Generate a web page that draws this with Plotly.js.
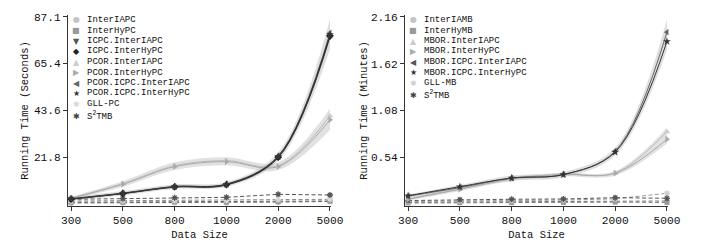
<!DOCTYPE html>
<html><head><meta charset="utf-8">
<script src="https://cdn.plot.ly/plotly-3.0.1.min.js"></script>
<style>body{margin:0;background:#fff}#chart{width:709px;height:244px}</style>
</head><body><div id="chart"></div>
<script>
// Shared categories
const dataSizes = ['300','500','800','1000','2000','5000'];

// ---- Left panel: Running Time (Seconds) ----
const leftTickVals = [21.8, 43.6, 65.4, 87.1];
const pcInterIAPC        = [0.5, 0.6, 0.7, 0.6, 0.9, 1.2];
const pcInterHyPC        = [0.8, 0.9, 1.0, 0.9, 1.1, 1.4];
const pcICPCInterIAPC    = [2.2, 4.8, 7.8, 8.8, 21.5, 77.6];
const pcICPCInterHyPC    = [2.3, 4.9, 8.0, 9.0, 21.8, 78.3];
const pcPCORInterIAPC    = [2.8, 9.5, 17.8, 20.2, 17.8, 41.0];
const pcPCORInterHyPC    = [2.6, 9.2, 17.4, 19.7, 17.4, 39.2];
const pcPCORICPCInterIAPC= [2.5, 5.1, 8.2, 9.3, 22.4, 79.6];
const pcPCORICPCInterHyPC= [2.4, 5.0, 8.1, 9.2, 22.1, 78.9];
const pcGLL              = [1.4, 1.5, 1.6, 1.7, 2.0, 2.2];
const pcS2TMB            = [2.2, 2.5, 2.9, 3.1, 4.5, 4.2];
const pcDarkBandLow      = [1.6, 4.0, 7.0, 8.0, 20.0, 72.0];
const pcDarkBandHigh     = [3.2, 6.0, 9.2, 10.2, 24.0, 86.0];
const pcGreyBandLow      = [2.0, 8.0, 15.8, 18.0, 15.8, 34.5];
const pcGreyBandHigh     = [3.4, 10.6, 19.4, 21.8, 19.4, 44.5];

// ---- Right panel: Running Time (Minutes) ----
const rightTickVals = [0.54, 1.08, 1.62, 2.16];
const mbInterIAMB        = [0.020, 0.022, 0.025, 0.025, 0.030, 0.035];
const mbInterHyMB        = [0.012, 0.015, 0.015, 0.018, 0.022, 0.018];
const mbMBORInterIAPC    = [0.060, 0.175, 0.295, 0.345, 0.360, 0.836];
const mbMBORInterHyPC    = [0.054, 0.170, 0.290, 0.340, 0.355, 0.748];
const mbMBORICPCInterIAPC= [0.090, 0.190, 0.300, 0.340, 0.610, 1.985];
const mbMBORICPCInterHyPC= [0.096, 0.200, 0.300, 0.340, 0.600, 1.877];
const mbGLL              = [0.030, 0.035, 0.040, 0.045, 0.060, 0.124];
const mbS2TMB            = [0.040, 0.050, 0.055, 0.058, 0.073, 0.066];
const mbDarkBandLow      = [0.070, 0.170, 0.270, 0.310, 0.560, 1.780];
const mbDarkBandHigh     = [0.110, 0.220, 0.330, 0.370, 0.650, 2.130];
const mbGreyBandLow      = [0.040, 0.150, 0.270, 0.320, 0.330, 0.700];
const mbGreyBandHigh     = [0.070, 0.190, 0.310, 0.360, 0.380, 0.880];

const leftLegend = ['InterIAPC','InterHyPC','ICPC.InterIAPC','ICPC.InterHyPC','PCOR.InterIAPC','PCOR.InterHyPC','PCOR.ICPC.InterIAPC','PCOR.ICPC.InterHyPC','GLL-PC','S<sup>2</sup>TMB'];
const rightLegend = ['InterIAMB','InterHyMB','MBOR.InterIAPC','MBOR.InterHyPC','MBOR.ICPC.InterIAPC','MBOR.ICPC.InterHyPC','GLL-MB','S<sup>2</sup>TMB'];

const FONT = '"Liberation Mono", "Courier New", monospace';
const traces = [];

function band(xa, ya, lo, hi, fill) {
  traces.push({x: dataSizes, y: lo, xaxis: xa, yaxis: ya, mode: 'lines', line: {width: 0, shape: 'spline'}, showlegend: false, hoverinfo: 'skip'});
  traces.push({x: dataSizes, y: hi, xaxis: xa, yaxis: ya, mode: 'lines', fill: 'tonexty', fillcolor: fill, line: {width: 0, shape: 'spline'}, showlegend: false, hoverinfo: 'skip'});
}
function series(xa, ya, y, color, symbol, opts) {
  opts = opts || {};
  const isOpen = symbol.indexOf('asterisk') >= 0;
  traces.push({
    x: dataSizes, y: y, xaxis: xa, yaxis: ya, mode: 'lines+markers', showlegend: false, cliponaxis: false,
    line: {color: opts.lineColor || color, width: opts.width || 1, dash: opts.dash || 'solid', shape: opts.shape || 'spline'},
    marker: {symbol: symbol, size: opts.size || 6, color: color, line: {color: color, width: isOpen ? 1.3 : 0}}
  });
}
const DASH = '4px,2.5px';

// Left panel
band('x', 'y', pcGreyBandLow, pcGreyBandHigh, 'rgba(170,170,170,0.35)');
band('x', 'y', pcDarkBandLow, pcDarkBandHigh, 'rgba(160,160,160,0.35)');
series('x','y', pcInterIAPC, '#c4c4c4', 'circle', {dash:DASH, lineColor:'#666', shape:'linear'});
series('x','y', pcInterHyPC, '#999999', 'square', {dash:DASH, lineColor:'#666', shape:'linear', size:5});
series('x','y', pcGLL, '#d8d8d8', 'asterisk-open', {dash:DASH, lineColor:'#888', shape:'linear', size:5});
series('x','y', pcS2TMB, '#555555', 'asterisk-open', {dash:DASH, lineColor:'#555', shape:'linear', size:5});
series('x','y', pcPCORInterIAPC, '#cccccc', 'triangle-up', {lineColor:'#bbb'});
series('x','y', pcPCORInterHyPC, '#aaaaaa', 'triangle-right', {lineColor:'#aaa'});
series('x','y', pcICPCInterIAPC, '#555555', 'triangle-down');
series('x','y', pcICPCInterHyPC, '#222222', 'diamond');
series('x','y', pcPCORICPCInterIAPC, '#666666', 'triangle-left');
series('x','y', pcPCORICPCInterHyPC, '#333333', 'star');

// Right panel
band('x2', 'y2', mbGreyBandLow, mbGreyBandHigh, 'rgba(170,170,170,0.35)');
band('x2', 'y2', mbDarkBandLow, mbDarkBandHigh, 'rgba(160,160,160,0.35)');
series('x2','y2', mbInterIAMB, '#c4c4c4', 'circle', {dash:DASH, lineColor:'#777', shape:'linear', size:5});
series('x2','y2', mbInterHyMB, '#999999', 'square', {dash:DASH, lineColor:'#777', shape:'linear', size:5});
series('x2','y2', mbGLL, '#d0d0d0', 'asterisk-open', {dash:DASH, lineColor:'#999', shape:'linear', size:5});
series('x2','y2', mbS2TMB, '#555555', 'asterisk-open', {dash:DASH, lineColor:'#555', shape:'linear', size:5});
series('x2','y2', mbMBORInterIAPC, '#cccccc', 'triangle-up', {lineColor:'#bbb'});
series('x2','y2', mbMBORInterHyPC, '#aaaaaa', 'triangle-right', {lineColor:'#aaa'});
series('x2','y2', mbMBORICPCInterIAPC, '#666666', 'triangle-left');
series('x2','y2', mbMBORICPCInterHyPC, '#333333', 'star');

// Legends built as annotations (compact rows)
const W = 709, T = 15, PH = 191;
function py(pix) { return (T + PH - pix) / PH; }
const annotations = [];
function legend(names, syms, colors, markerX, rowsY) {
  names.forEach((n, i) => {
    annotations.push({xref:'paper', yref:'paper', x: markerX / W, y: py(rowsY[i]), text: syms[i], showarrow:false,
      xanchor:'center', yanchor:'middle', font:{family:'"DejaVu Sans"', size:8, color: colors[i]}});
    annotations.push({xref:'paper', yref:'paper', x: (markerX + 9) / W, y: py(rowsY[i]), text: n, showarrow:false,
      xanchor:'left', yanchor:'middle', font:{family: FONT, size: 9, color:'#111'}});
  });
}
legend(leftLegend, ['●','■','▼','◆','▲','▶','◀','★','✱','✱'],
  ['#c4c4c4','#999','#555','#222','#ccc','#aaa','#666','#333','#d8d8d8','#444'],
  76, [20, 30.5, 41, 51.5, 62, 72.5, 83, 93.5, 104, 116]);
legend(rightLegend, ['●','■','▲','▶','◀','★','✱','✱'],
  ['#c4c4c4','#999','#ccc','#aaa','#555','#333','#d0d0d0','#444'],
  413, [20, 30.5, 41, 51.5, 62, 72.5, 83, 95]);

const axBase = {showline:true, linecolor:'#333', linewidth:1, ticks:'outside', ticklen:4, tickcolor:'#333',
  showgrid:false, zeroline:false, tickfont:{family:FONT, size:11.2, color:'#111'}};
const xBase = Object.assign({}, axBase, {type:'category', range:[-0.06, 5.02],
  title:{text:'Data Size', font:{family:FONT, size:10.5, color:'#111'}, standoff:4}});

const layout = {
  width: 709, height: 244, margin:{l:0, r:0, t:T, b:244 - T - PH},
  paper_bgcolor:'#fff', plot_bgcolor:'#fff', showlegend:false,
  xaxis: Object.assign({}, xBase, {domain:[68/W, 331/W], anchor:'y'}),
  xaxis2: Object.assign({}, xBase, {domain:[405/W, 668/W], anchor:'y2'}),
  yaxis: Object.assign({}, axBase, {anchor:'x', range:[-0.93, 88.0], tickvals: leftTickVals, ticktext: leftTickVals.map(v => v.toFixed(1)),
    title:{text:'Running Time (Seconds)', font:{family:FONT, size:10.5, color:'#111'}, standoff:3}}),
  yaxis2: Object.assign({}, axBase, {anchor:'x2', range:[-0.023, 2.183], tickvals: rightTickVals, ticktext: rightTickVals.map(v => v.toFixed(2)),
    title:{text:'Running Time (Minutes)', font:{family:FONT, size:10.5, color:'#111'}, standoff:1}}),
  annotations: annotations
};

Plotly.newPlot('chart', traces, layout, {displayModeBar:false, staticPlot:true});
</script></body></html>
